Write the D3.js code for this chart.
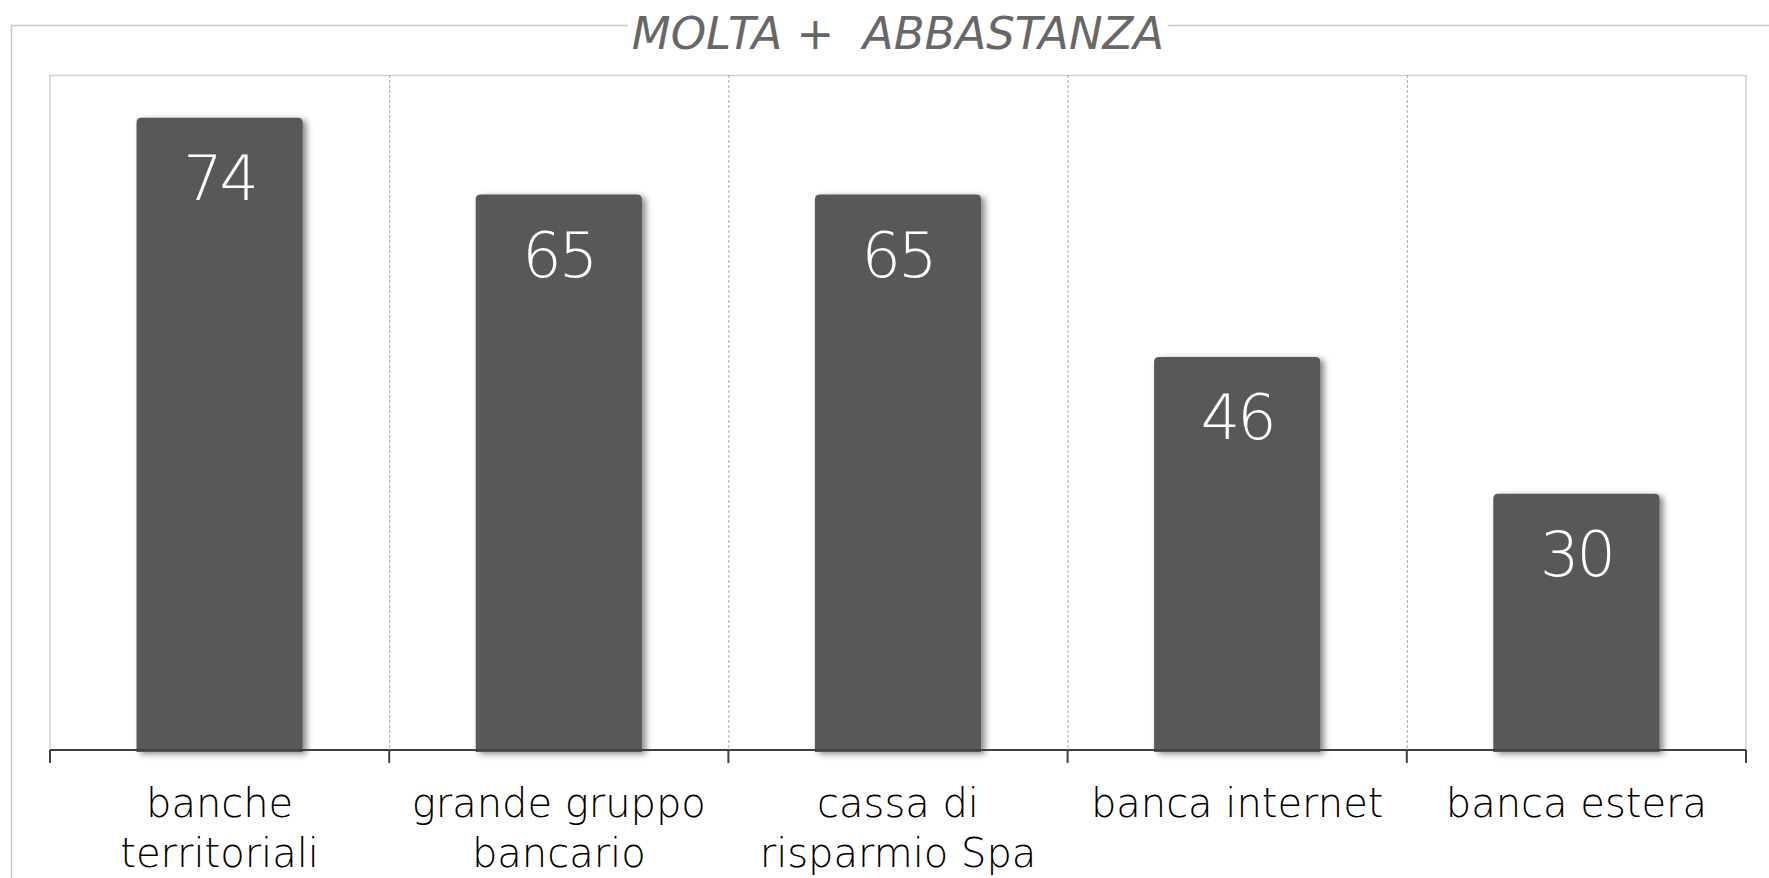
<!DOCTYPE html>
<meta charset="utf-8">
<style>
  body { margin: 0; background: #fff; }
  text { font-family: 'DejaVu Sans', sans-serif; }
</style>
<div id="chart"></div>
<script src="https://cdn.jsdelivr.net/npm/d3@7"></script>
<script>
    // data
    const title = "MOLTA +  ABBASTANZA";
    const categories = ["banche\nterritoriali", "grande gruppo\nbancario", "cassa di\nrisparmio Spa", "banca internet", "banca estera"];
    const values = [74, 65, 65, 46, 30];

    const width = 1769, height = 878;
    const plot = {left: 50, right: 1746, top: 75, bottom: 750};

    const svg = d3.select("#chart").append("svg")
                  .attr("width", width)
                  .attr("height", height);

    const defs = svg.append("defs");
    const shadow = defs.append("filter").attr("id", "shadow")
                       .attr("x", "-20%").attr("y", "-10%").attr("width", "150%").attr("height", "130%");
    shadow.append("feDropShadow")
          .attr("dx", 4).attr("dy", 2).attr("stdDeviation", 3)
          .attr("flood-color", "#000").attr("flood-opacity", 0.45);

    // outer frame
    svg.append("rect")
       .attr("x", 11.5).attr("y", 25.5)
       .attr("width", width + 20).attr("height", height + 20)
       .attr("fill", "none").attr("stroke", "#c8c8c8").attr("stroke-width", 1.5);

    const x = d3.scaleBand()
                .domain(categories)
                .range([plot.left, plot.right])
                .paddingInner(0)
                .paddingOuter(0);

    const y = d3.scaleLinear()
                .domain([0, 79])
                .range([plot.bottom, plot.top]);

    // plot area border (top, left, right)
    svg.append("path")
       .attr("d", `M${plot.left},${plot.bottom} V${plot.top + 0.5} H${plot.right} V${plot.bottom}`)
       .attr("fill", "none").attr("stroke", "#d0d0d0").attr("stroke-width", 1.5);

    // dashed separators between categories
    svg.append("g")
       .selectAll("line")
       .data(categories.slice(1))
       .join("line")
       .attr("x1", d => x(d) + 0.5).attr("x2", d => x(d) + 0.5)
       .attr("y1", plot.top).attr("y2", plot.bottom)
       .attr("stroke", "#a6a6a6").attr("stroke-width", 1)
       .attr("stroke-dasharray", "3,2");

    // bars
    const barW = x.bandwidth() * 0.49;
    const r = 5;
    svg.append("g")
       .attr("filter", "url(#shadow)")
       .selectAll("path")
       .data(values)
       .join("path")
       .attr("fill", "#595959")
       .attr("d", (v, i) => {
           const x0 = x(categories[i]) + (x.bandwidth() - barW) / 2;
           const x1 = x0 + barW;
           const y0 = y(v), y1 = y(0) + 2;
           return `M${x0},${y1} V${y0 + r} Q${x0},${y0} ${x0 + r},${y0} H${x1 - r} Q${x1},${y0} ${x1},${y0 + r} V${y1} Z`;
       });

    // value labels
    svg.append("g")
       .selectAll("text")
       .data(values)
       .join("text")
       .attr("x", (v, i) => x(categories[i]) + x.bandwidth() / 2)
       .attr("y", v => y(v) + 82)
       .attr("text-anchor", "middle")
       .attr("fill", "#fff")
       .style("font-size", "62px")
       .style("font-weight", 200)
       .style("letter-spacing", "-3px")
       .text(v => v);

    // x axis
    const bounds = categories.map(c => x(c)).concat([plot.right]);
    const axis = svg.append("g");
    axis.append("line")
        .attr("x1", plot.left).attr("x2", plot.right)
        .attr("y1", plot.bottom).attr("y2", plot.bottom)
        .attr("stroke", "#404040").attr("stroke-width", 2);
    axis.selectAll("line.tick")
        .data(bounds)
        .join("line")
        .attr("class", "tick")
        .attr("x1", d => d).attr("x2", d => d)
        .attr("y1", plot.bottom).attr("y2", plot.bottom + 13)
        .attr("stroke", "#404040").attr("stroke-width", 2);

    axis.selectAll("text.lab")
        .data(categories)
        .join("text")
        .attr("class", "lab")
        .attr("text-anchor", "middle")
        .attr("fill", "#000")
        .style("font-size", "40px")
        .style("font-weight", 200)
        .each(function(d) {
            const t = d3.select(this);
            d.split("\n").forEach((line, k) => {
                t.append("tspan")
                 .attr("x", x(d) + x.bandwidth() / 2)
                 .attr("y", 817 + k * 50)
                 .text(line);
            });
        });

    // title with white background over frame line
    const tg = svg.append("g");
    const tt = tg.append("text")
                 .attr("x", (plot.left + plot.right) / 2)
                 .attr("y", 49)
                 .attr("text-anchor", "middle")
                 .attr("fill", "#676767")
                 .style("font-size", "45px")
                 .style("font-style", "italic")
                 .style("font-weight", 200)
                 .style("white-space", "pre")
                 .text(title);
    const bb = tt.node().getBBox();
    tg.insert("rect", "text")
      .attr("x", bb.x - 4).attr("y", bb.y)
      .attr("width", bb.width + 8).attr("height", bb.height)
      .attr("fill", "#fff");
</script>
